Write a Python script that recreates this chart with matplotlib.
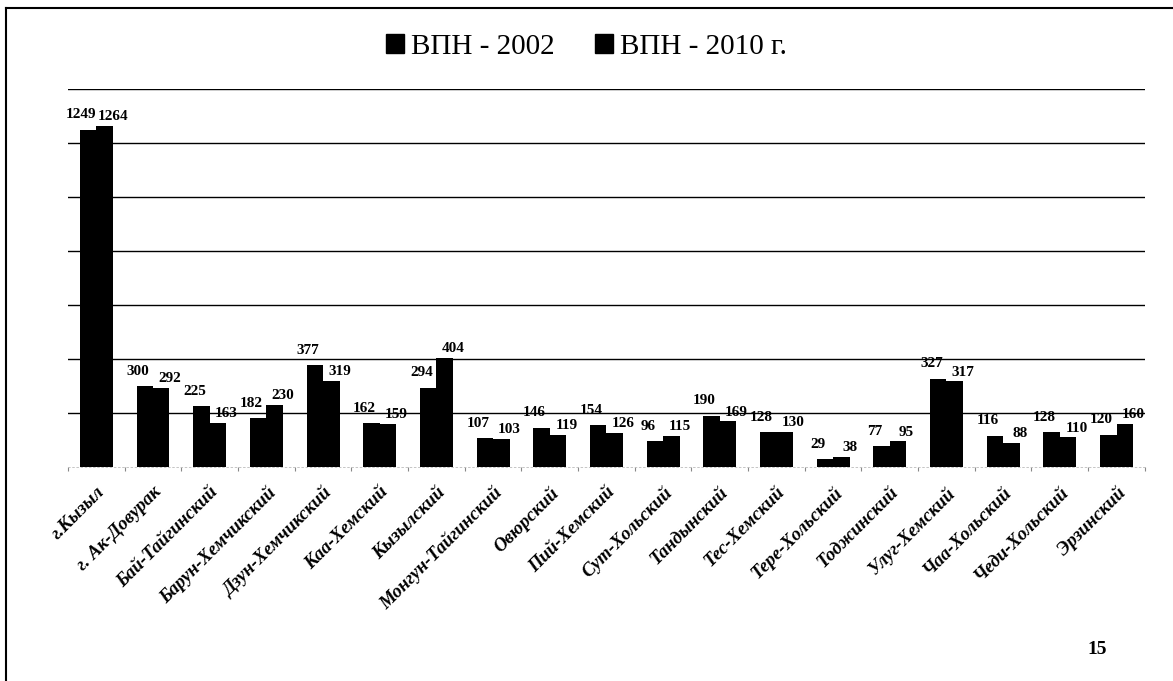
import matplotlib
matplotlib.use("Agg")
import matplotlib.pyplot as plt
from matplotlib.patches import Patch
from matplotlib.lines import Line2D
import numpy as np

# районы и численность (ВПН 2002 / ВПН 2010)
categories = ['г.Кызыл', 'г. Ак-Довурак', 'Бай-Тайгинский', 'Барун-Хемчикский',
              'Дзун-Хемчикский', 'Каа-Хемский', 'Кызылский', 'Монгун-Тайгинский',
              'Овюрский', 'Пий-Хемский', 'Сут-Хольский', 'Тандынский', 'Тес-Хемский',
              'Тере-Хольский', 'Тоджинский', 'Улуг-Хемский', 'Чаа-Хольский',
              'Чеди-Хольский', 'Эрзинский']
v2002 = [1249, 300, 225, 182, 377, 162, 294, 107, 146, 154, 96, 190, 128, 29, 77, 327, 116, 128, 120]
v2010 = [1264, 292, 163, 230, 319, 159, 404, 103, 119, 126, 115, 169, 130, 38, 95, 317, 88, 110, 160]
series_names = ['ВПН - 2002', 'ВПН - 2010 г.']

serif = 'Liberation Serif'

fig = plt.figure(figsize=(11.73, 6.81), dpi=100)
ax = fig.add_axes([0.058, 0.3142, 0.918, 0.5551])

x = np.arange(len(categories))
w = 0.29
b1 = ax.bar(x - w/2, v2002, w, color='black', zorder=3)
b2 = ax.bar(x + w/2, v2010, w, color='black', zorder=3)

for rect, v in zip(b1, v2002):
    ax.annotate(str(v), (rect.get_x() + rect.get_width()/2, rect.get_height()),
                xytext=(-5, 6), textcoords='offset points', ha='center', va='bottom',
                fontsize=11, fontweight='bold', family=serif, zorder=4)
for rect, v in zip(b2, v2010):
    ax.annotate(str(v), (rect.get_x() + rect.get_width()/2, rect.get_height()),
                xytext=(6, 2), textcoords='offset points', ha='center', va='bottom',
                fontsize=11, fontweight='bold', family=serif, zorder=4)

ax.set_xlim(-0.5, len(categories) - 0.5)
ax.set_ylim(0, 1400)
ax.set_yticks(np.arange(200, 1401, 200))
ax.yaxis.grid(True, color='black', linewidth=1.0)
ax.set_axisbelow(True)
ax.tick_params(axis='y', length=0, labelleft=False)

ax.set_xticks(x)
ax.set_xticklabels(categories, rotation=45, ha='right', rotation_mode='anchor',
                   fontsize=13.5, fontweight='bold', fontstyle='italic', family=serif)
ax.tick_params(axis='x', length=0, pad=12)
ax.set_xticks(np.arange(-0.5, len(categories)), minor=True)
ax.tick_params(axis='x', which='minor', length=3, color='#888888', width=0.8)

for s in ['top', 'right', 'left']:
    ax.spines[s].set_visible(False)
ax.spines['bottom'].set_color('#bbbbbb')
ax.spines['bottom'].set_linestyle((0, (2, 3)))
ax.spines['bottom'].set_linewidth(0.6)

handles = [Patch(facecolor='black', edgecolor='black') for _ in series_names]
fig.legend(handles, series_names, loc='center', bbox_to_anchor=(0.5, 0.931), ncol=2,
           frameon=False, prop={'family': serif, 'size': 21},
           handlelength=0.6, handleheight=0.6, handletextpad=0.25, columnspacing=1.4)

# рамка скана
fig.add_artist(Line2D([6/1173, 1.0], [1 - 8/681, 1 - 8/681], color='black', linewidth=1.5))
fig.add_artist(Line2D([6/1173, 6/1173], [0.0, 1 - 8/681], color='black', linewidth=1.5))

fig.text(1097/1173, 1 - 650/681, '15', ha='center', va='center',
         fontsize=14, fontweight='bold', family=serif)

fig.savefig('out.png', dpi=100)
